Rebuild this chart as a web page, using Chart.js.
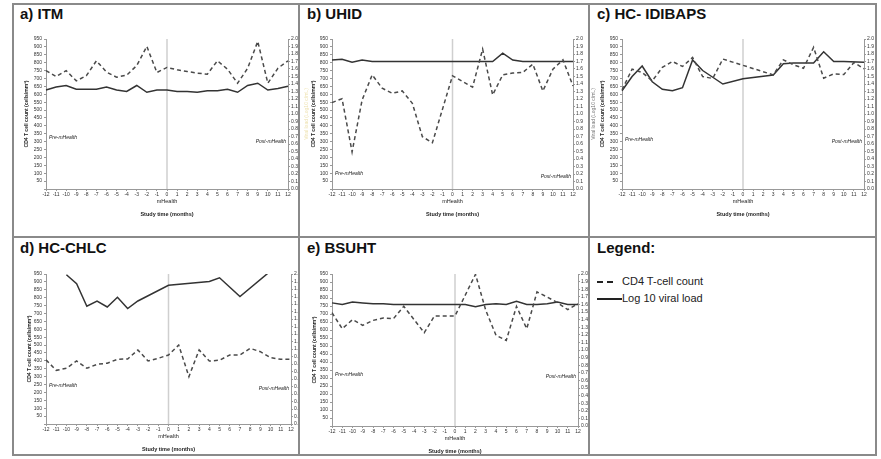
<!DOCTYPE html>
<html>
<head>
<meta charset="utf-8">
<script src="https://cdn.jsdelivr.net/npm/chart.js@4"></script>
<style>
body{margin:0;background:#fff;width:881px;height:459px;position:relative;overflow:hidden;font-family:"Liberation Sans",Arial,sans-serif}
.rule{position:absolute;background:#8a8a8a}
.title{position:absolute;font-weight:bold;font-size:15px;color:#111;line-height:18px;white-space:nowrap}
.leg{position:absolute;font-size:11px;color:#222;line-height:13px;white-space:nowrap}
canvas{position:absolute}
</style>
</head>
<body>
<div class="title" style="left:20px;top:5px">a) ITM</div>
<div class="title" style="left:307px;top:5px">b) UHID</div>
<div class="title" style="left:597px;top:5px">c) HC- IDIBAPS</div>
<div class="title" style="left:20px;top:239px">d) HC-CHLC</div>
<div class="title" style="left:307px;top:239px">e) BSUHT</div>
<div class="title" style="left:597px;top:239px">Legend:</div>

<div class="rule" style="left:597px;top:281px;width:6px;height:2px;background:#222"></div>
<div class="rule" style="left:607px;top:281px;width:6px;height:2px;background:#222"></div>
<div class="leg" style="left:622px;top:275px">CD4 T-cell count</div>
<div class="rule" style="left:597px;top:298px;width:25px;height:2px;background:#222"></div>
<div class="leg" style="left:622px;top:292px">Log 10 viral load</div>

<script>
// months relative to the start of mHealth
const months = ['-12','-11','-10','-9','-8','-7','-6','-5','-4','-3','-2','-1','0','1','2','3','4','5','6','7','8','9','10','11','12'];

// a) ITM
const itmCd4 = [750,712,750,685,717,812,740,708,721,782,903,738,770,755,744,734,727,812,759,670,765,935,670,765,812];
const itmVl = [1.32,1.36,1.38,1.33,1.33,1.33,1.36,1.32,1.30,1.38,1.29,1.32,1.32,1.30,1.30,1.29,1.31,1.31,1.33,1.29,1.38,1.41,1.32,1.34,1.37];

// b) UHID
const uhidCd4 = [547,572,235,564,723,638,606,621,543,331,293,null,717,681,645,886,596,723,734,738,791,621,759,818,653];
const uhidVl = [1.72,1.73,1.69,1.72,1.70,1.70,1.70,1.70,1.70,1.70,1.70,1.70,1.70,1.70,1.70,1.70,1.70,1.81,1.72,1.70,1.70,1.70,1.70,1.70,1.70];

// c) HC- IDIBAPS
const idibapsCd4 = [628,759,738,685,770,808,776,833,712,700,823,null,null,null,null,723,818,787,765,897,702,729,725,801,761];
const idibapsVl = [1.31,1.50,1.64,1.43,1.33,1.31,1.35,1.72,1.58,1.49,1.40,null,1.47,null,null,1.52,1.67,1.68,1.68,1.68,1.83,1.70,1.70,null,1.69];

// d) HC-CHLC
const chlcCd4 = [406,340,353,399,353,378,385,410,412,469,399,416,437,500,300,469,399,404,437,437,479,458,420,410,410];
const chlcVl = [null,null,1.99,1.87,1.57,1.64,1.56,1.69,1.54,1.64,null,null,1.85,null,null,null,1.90,1.95,null,1.70,null,null,2.04,null,null];

// e) BSUHT
const bsuhtCd4 = [708,608,665,629,660,675,671,748,null,583,688,688,688,null,948,723,567,535,748,608,838,806,771,727,765];
const bsuhtVl = [1.62,1.60,1.63,1.62,1.61,1.61,1.60,1.60,1.60,1.60,1.60,1.60,1.60,1.60,1.57,1.60,1.61,1.60,1.64,1.60,1.60,1.61,1.63,1.60,1.60];

const FONT = '"Liberation Sans", Arial, sans-serif';

// cell borders
const colX = [13, 299, 589, 876];
const rowY = [4, 237, 455];
rowY.forEach(y => addRule(colX[0] - 1, y - 1, colX[3] - colX[0] + 2, 2));
colX.forEach(x => addRule(x - 1, rowY[0] - 1, 2, rowY[2] - rowY[0] + 2));
function addRule(l, t, w, h) {
    const d = document.createElement('div');
    d.className = 'rule';
    d.style.cssText = `left:${l}px;top:${t}px;width:${w}px;height:${h}px`;
    document.body.appendChild(d);
}

const panels = [
    {cd4: itmCd4, vl: itmVl, cell: [13, 4, 299, 237], area: [46, 39, 288, 189], preY: 323, postY: 298, yTitleX: 27},
    {cd4: uhidCd4, vl: uhidVl, cell: [299, 4, 589, 237], area: [332, 39, 573, 189], preY: 95, postY: 76, yTitleX: 314, faintX: 307, faintColor: '#eee2b0'},
    {cd4: idibapsCd4, vl: idibapsVl, cell: [589, 4, 876, 237], area: [622, 39, 864, 189], preY: 310, postY: 298, yTitleX: 603, faintX: 594, faintColor: '#777'},
    {cd4: chlcCd4, vl: chlcVl, cell: [13, 237, 299, 455], area: [46, 274, 291, 424], preY: 241, postY: 222, yTitleX: 30},
    {cd4: bsuhtCd4, vl: bsuhtVl, cell: [299, 237, 589, 455], area: [332, 274, 578, 426], preY: 319, postY: 306, yTitleX: 315}
];

// gray divider at month 0 plus the small texts
const annot = {
    id: 'annot',
    beforeDatasetsDraw(chart) {
        const {ctx, chartArea} = chart;
        const x0 = chart.scales.x.getPixelForValue(12);
        ctx.save();
        ctx.strokeStyle = '#cfcfcf';
        ctx.lineWidth = 1.5;
        ctx.beginPath();
        ctx.moveTo(x0, chartArea.top);
        ctx.lineTo(x0, chartArea.bottom);
        ctx.stroke();
        ctx.restore();
    },
    afterDraw(chart) {
        const p = chart.config.options.panel;
        const {ctx, chartArea} = chart;
        const xs = chart.scales.x, ys = chart.scales.y;
        const cx = p.cell[0] + 1;
        ctx.save();
        ctx.fillStyle = '#222';
        ctx.textBaseline = 'middle';

        ctx.font = 'italic 5px ' + FONT;
        ctx.textAlign = 'left';
        ctx.fillText('Pre-mHealth', xs.getPixelForValue(0) + 3, ys.getPixelForValue(p.preY));
        ctx.textAlign = 'right';
        ctx.fillText('Post-mHealth', chartArea.right - 2, ys.getPixelForValue(p.postY));

        ctx.textAlign = 'center';
        ctx.font = '5.5px ' + FONT;
        ctx.fillText('mHealth', xs.getPixelForValue(12), chartArea.bottom + 12);
        ctx.font = 'bold 5.5px ' + FONT;
        ctx.fillText('Study time (months)', (chartArea.left + chartArea.right) / 2, chartArea.bottom + 25);

        const midY = (chartArea.top + chartArea.bottom) / 2;
        ctx.save();
        ctx.translate(p.yTitleX - cx, midY);
        ctx.rotate(-Math.PI / 2);
        ctx.font = 'bold 5px ' + FONT;
        ctx.fillText('CD4 T cell count (cells/mm\u00B3)', 0, 0);
        ctx.restore();

        if (p.faintX) {
            ctx.save();
            ctx.translate(p.faintX - cx, midY);
            ctx.rotate(-Math.PI / 2);
            ctx.font = '5px ' + FONT;
            ctx.fillStyle = p.faintColor;
            ctx.fillText('Viral load (Log10 c/mL)', 0, 0);
            ctx.restore();
        }
        ctx.restore();
    }
};

function makeChart(p) {
    const cv = document.createElement('canvas');
    const cx = p.cell[0] + 1, cy = p.cell[1] + 1;
    const cw = p.cell[2] - p.cell[0] - 2, ch = p.cell[3] - p.cell[1] - 2;
    cv.width = cw; cv.height = ch;
    cv.style.left = cx + 'px'; cv.style.top = cy + 'px';
    cv.style.width = cw + 'px'; cv.style.height = ch + 'px';
    document.body.appendChild(cv);

    const LW = 14, XH = 8;
    const RW = cx + cw - p.area[2];
    const tickFont = {size: 5, family: FONT};
    const axisGrid = {drawOnChartArea: false, tickLength: 2, color: '#999'};

    new Chart(cv, {
        type: 'line',
        data: {
            labels: months,
            datasets: [{
                label: 'CD4 T-cell count',
                data: p.cd4,
                yAxisID: 'y',
                borderColor: '#4a4a4a',
                borderWidth: 1.5,
                borderDash: [4, 3],
                pointRadius: 0,
                spanGaps: true
            }, {
                label: 'Log 10 viral load',
                data: p.vl,
                yAxisID: 'y1',
                borderColor: '#333',
                borderWidth: 1.5,
                pointRadius: 0,
                spanGaps: true
            }]
        },
        options: {
            panel: p,
            responsive: false,
            animation: false,
            events: [],
            layout: {padding: {left: p.area[0] - cx - LW, right: 0, top: p.area[1] - cy, bottom: cy + ch - p.area[3] - XH}},
            plugins: {legend: {display: false}, tooltip: {enabled: false}},
            scales: {
                x: {
                    offset: false,
                    grid: axisGrid,
                    border: {color: '#999'},
                    ticks: {font: tickFont, color: '#333', autoSkip: false, maxRotation: 0, padding: 1},
                    afterFit: s => { s.height = XH; }
                },
                y: {
                    position: 'left',
                    min: 0, max: 950,
                    grid: axisGrid,
                    border: {color: '#999'},
                    ticks: {stepSize: 50, font: tickFont, color: '#333', autoSkip: false, padding: 2,
                        callback: v => v === 0 ? '' : v},
                    afterFit: s => { s.width = LW; }
                },
                y1: {
                    position: 'right',
                    min: 0, max: 2,
                    grid: axisGrid,
                    border: {color: '#999'},
                    ticks: {stepSize: 0.1, font: tickFont, color: '#333', autoSkip: false, padding: 1,
                        callback: v => Number(v).toFixed(1)},
                    afterFit: s => { s.width = RW; }
                }
            }
        },
        plugins: [annot]
    });
}

panels.forEach(makeChart);
</script>
</body>
</html>
